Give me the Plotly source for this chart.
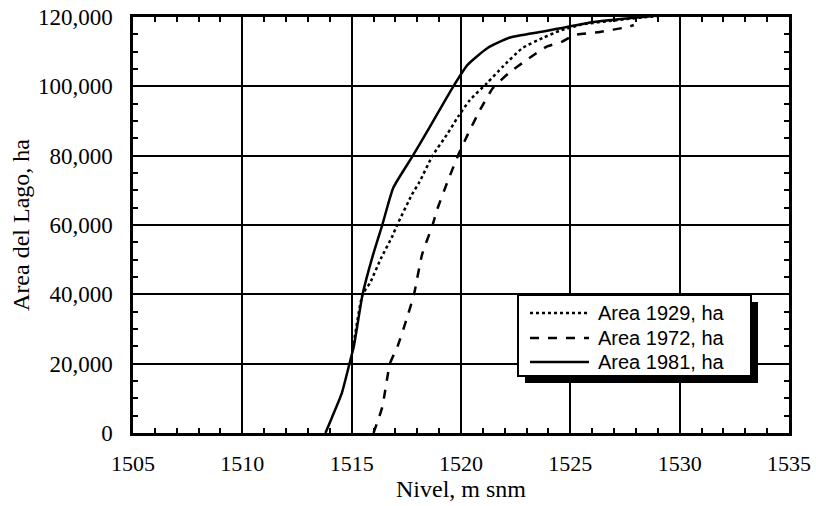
import plotly.graph_objects as go

# Data
level_1929 = [1515.05, 1515.5, 1515.84, 1516.35, 1516.84, 1517.08, 1517.75, 1518.1, 1518.7,
              1519.4, 1519.86, 1520.4, 1521.2, 1521.9, 1522.8, 1523.75, 1524.5, 1525.5,
              1527.0, 1528.5, 1530.0]
area_1929 = [24000, 40000, 43300, 50500, 56500, 60000, 68700, 72400, 80000,
             86500, 91200, 96000, 101000, 105600, 111000, 114000, 116000, 117800,
             119000, 120000, 120800]

level_1972 = [1516.0, 1516.4, 1516.75, 1517.1, 1517.5, 1517.85, 1518.22, 1518.7, 1518.9,
              1519.36, 1519.86, 1520.3, 1520.87, 1521.46, 1522.2, 1523.0, 1523.9, 1524.6,
              1525.2, 1526.35, 1527.6, 1527.9]
area_1972 = [0, 7500, 20000, 25000, 32600, 40000, 51500, 60000, 64300,
             72100, 80000, 86000, 93200, 99500, 103900, 107600, 111400, 112800,
             114800, 115700, 117100, 117700]

level_1981 = [1513.8, 1514.1, 1514.55, 1514.9, 1515.1, 1515.5, 1515.95, 1516.4, 1516.9,
              1517.8, 1518.5, 1519.65, 1520.3, 1521.2, 1522.2, 1523.75, 1525.8, 1527.3,
              1528.8, 1530.0]
area_1981 = [0, 4500, 11500, 20000, 25000, 40000, 50800, 60000, 70700,
             80000, 87500, 100000, 106200, 111000, 114000, 115800, 118300, 119400,
             120300, 120800]

series_names = ["Area 1929, ha", "Area 1972, ha", "Area 1981, ha"]
series_dashes = ["dot", "dash", "solid"]
x_ticks = [1505, 1510, 1515, 1520, 1525, 1530, 1535]
y_ticks = [0, 20000, 40000, 60000, 80000, 100000, 120000]
y_tick_labels = ["0", "20,000", "40,000", "60,000", "80,000", "100,000", "120,000"]

levels = [level_1929, level_1972, level_1981]
areas = [area_1929, area_1972, area_1981]

fig = go.Figure()
for lv, ar, nm, ds in zip(levels, areas, series_names, series_dashes):
    fig.add_trace(go.Scatter(x=lv, y=ar, mode="lines", name=nm, showlegend=False,
                             line=dict(color="black", width=2.5, dash=ds,
                                       shape="spline", smoothing=0.5)))

serif = "Liberation Serif, Times New Roman, serif"
sans = "Liberation Sans, Arial, sans-serif"

L, R, T, B = 133, 789, 17, 433
W, H = R - L, B - T


def px(xp):
    return (xp - L) / W


def py(yp):
    return (B - yp) / H


fig.update_layout(
    width=816, height=506,
    margin=dict(l=L, r=816 - R, t=T, b=506 - B, autoexpand=False),
    paper_bgcolor="white", plot_bgcolor="white",
    font=dict(family=serif, size=22, color="black"),
    showlegend=False,
    xaxis=dict(range=[1505, 1535], tickvals=x_ticks, ticktext=[str(v) for v in x_ticks],
               showgrid=True, gridcolor="black", gridwidth=2,
               showline=True, linecolor="black", linewidth=2.5, mirror="ticks",
               ticks="inside", ticklen=8, tickwidth=2, tickcolor="black",
               ticklabelstandoff=9, automargin=False,
               minor=dict(dtick=1, ticks="inside", ticklen=5, tickwidth=2,
                          tickcolor="black", showgrid=False),
               title=dict(text="Nivel, m snm", font=dict(family=serif, size=24), standoff=6),
               zeroline=False, tickfont=dict(family=serif, size=22)),
    yaxis=dict(range=[0, 120000], tickvals=y_ticks, ticktext=y_tick_labels,
               showgrid=True, gridcolor="black", gridwidth=2,
               showline=True, linecolor="black", linewidth=2.5, mirror="ticks",
               ticks="inside", ticklen=8, tickwidth=2, tickcolor="black",
               ticklabelstandoff=13, automargin=False,
               minor=dict(dtick=5000, ticks="inside", ticklen=5, tickwidth=2,
                          tickcolor="black", showgrid=False),
               title=dict(text="Area del Lago, ha", font=dict(family=serif, size=24), standoff=2),
               zeroline=False, tickfont=dict(family=serif, size=23)),
)

# manual legend: shadow, box, samples, labels
fig.add_shape(type="rect", xref="paper", yref="paper",
              x0=px(525), x1=px(758), y0=py(383), y1=py(302),
              fillcolor="black", line=dict(width=0), layer="above")
fig.add_shape(type="rect", xref="paper", yref="paper",
              x0=px(518), x1=px(751), y0=py(376), y1=py(295),
              fillcolor="white", line=dict(color="black", width=2), layer="above")
row_y = [313, 338, 362]
for ry, nm, ds in zip(row_y, series_names, series_dashes):
    fig.add_shape(type="line", xref="paper", yref="paper",
                  x0=px(530), x1=px(589), y0=py(ry), y1=py(ry),
                  line=dict(color="black", width=2.5, dash=ds), layer="above")
    fig.add_annotation(xref="paper", yref="paper", x=px(596), y=py(ry),
                       xanchor="left", yanchor="middle", showarrow=False,
                       text=nm, font=dict(family=sans, size=20, color="black"))

fig.write_html("out.html", config={"displayModeBar": False},
               post_script="document.body.style.margin='0';document.body.style.overflow='hidden';")
